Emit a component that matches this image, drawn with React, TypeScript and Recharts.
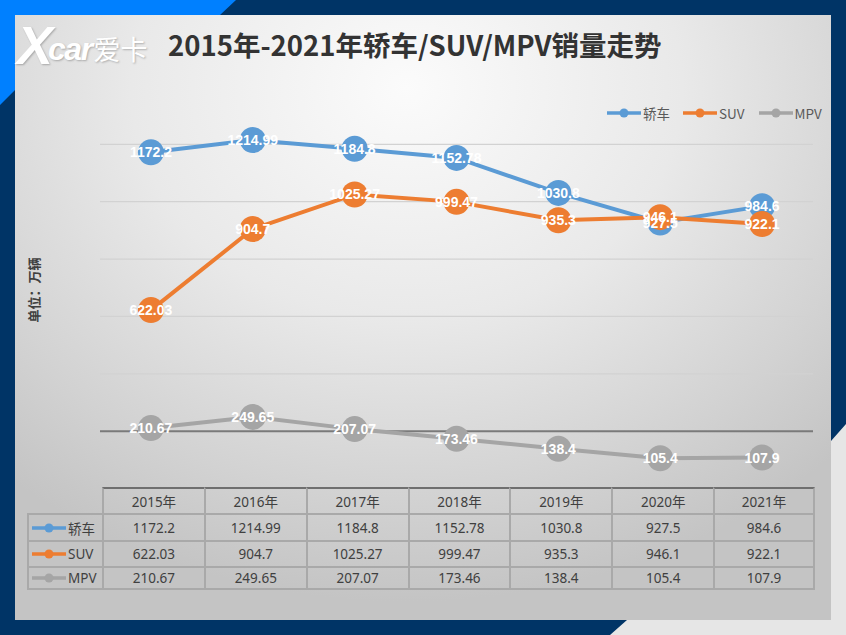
import React from 'react';
import { LineChart, Line, XAxis, YAxis, ReferenceLine } from 'recharts';

const years = ['2015年', '2016年', '2017年', '2018年', '2019年', '2020年', '2021年'];
const seriesNames = ['轿车', 'SUV', 'MPV'];
const sedan = [1172.2, 1214.99, 1184.8, 1152.78, 1030.8, 927.5, 984.6];
const suv = [622.03, 904.7, 1025.27, 999.47, 935.3, 946.1, 922.1];
const mpv = [210.67, 249.65, 207.07, 173.46, 138.4, 105.4, 107.9];
const colors = ['#5b9bd5', '#ed7d31', '#a5a5a5'];
const gridTicks = [400, 600, 800, 1000, 1200];
const axisValue = 200;
const title = '2015年-2021年轿车/SUV/MPV销量走势';
const unitLabel = '单位：万辆';

const seriesValues = [sedan, suv, mpv];
const keys = ['sedan', 'suv', 'mpv'];
const data = years.map((y, i) => ({ year: y, sedan: sedan[i], suv: suv[i], mpv: mpv[i] }));

const labelFont = '"Liberation Sans", Arial, sans-serif';
const cjk = '"Noto Sans CJK SC", "Noto Sans", sans-serif';

const renderLabel = (props: any) => {
  const { x, y, value } = props;
  if (x == null || y == null) return null;
  return (
    <text x={x} y={y} dy={5} textAnchor="middle" fill="#ffffff" fontSize={14} fontWeight="bold" fontFamily={labelFont}>
      {value}
    </text>
  );
};

const LegendIcon = ({ color }: { color: string }) => (
  <svg width={34} height={10} style={{ display: 'block' }}>
    <line x1={0} y1={5} x2={34} y2={5} stroke={color} strokeWidth={3.5} />
    <circle cx={17} cy={5} r={4.5} fill={color} />
  </svg>
);

export default function App() {
  const tableLeft = 102;
  const tableRight = 815;
  const colW = (tableRight - tableLeft) / years.length;
  const rowTops = [487, 513, 540, 566];
  const rowHeights = [26, 27, 26, 24];
  const labelLeft = 27;
  const border = '#a9a9a9';

  return (
    <div style={{ position: 'absolute', left: 0, top: 0, width: 846, height: 635, overflow: 'hidden', background: '#003466', fontFamily: cjk }}>
      <svg width={846} height={635} style={{ position: 'absolute', left: 0, top: 0 }}>
        <polygon points="0,0 236,0 220,15 15,15 15,90 0,105" fill="#0080ff" />
        <polygon points="846,424 831,441 831,620 627,620 610,635 846,635" fill="#e6e6e6" />
      </svg>
      <div
        style={{
          position: 'absolute', left: 15, top: 15, width: 816, height: 605,
          background: 'radial-gradient(ellipse 75% 85% at 48% 12%, #fbfbfb 0%, #e9e9e9 45%, #d2d2d2 80%, #c4c4c4 100%)',
        }}
      />
      <div style={{ position: 'absolute', left: 17, top: 17, height: 56, display: 'flex', alignItems: 'center', color: '#ffffff', textShadow: '1px 1px 2px rgba(0,0,0,0.25)' }}>
        <span style={{ fontFamily: labelFont, fontWeight: 'bold', fontStyle: 'italic', fontSize: 54, letterSpacing: -5, lineHeight: 1 }}>X</span>
        <span style={{ fontFamily: labelFont, fontWeight: 'bold', fontStyle: 'italic', fontSize: 32, letterSpacing: -1.5, lineHeight: 1, marginTop: 8 }}>car</span>
        <span style={{ fontFamily: cjk, fontSize: 27, lineHeight: 1, marginTop: 6, marginLeft: 2 }}>爱卡</span>
      </div>
      <div style={{ position: 'absolute', left: 168, top: 24, fontSize: 27.5, fontWeight: 'bold', color: '#333333', whiteSpace: 'nowrap', lineHeight: '40px', fontFamily: cjk }}>
        {title}
      </div>
      <div style={{ position: 'absolute', left: 607, top: 103, display: 'flex', alignItems: 'center', fontSize: 13.5, color: '#595959', whiteSpace: 'nowrap', fontFamily: cjk }}>
        {seriesNames.map((n, i) => (
          <div key={n} style={{ display: 'flex', alignItems: 'center', marginRight: i === 0 ? 13 : 14 }}>
            <LegendIcon color={colors[i]} />
            <span style={{ marginLeft: 2, lineHeight: '20px' }}>{n}</span>
          </div>
        ))}
      </div>
      <div style={{ position: 'absolute', left: 33, top: 290, transform: 'translate(-50%, -50%) rotate(-90deg)', fontSize: 13, fontWeight: 'bold', color: '#404040', whiteSpace: 'nowrap', fontFamily: cjk }}>
        {unitLabel}
      </div>

      <div style={{ position: 'absolute', left: 0, top: 0 }}>
        <LineChart width={846} height={635} data={data} margin={{ top: 87, right: 33, bottom: 146.5, left: 100 }}>
          <XAxis dataKey="year" scale="band" hide />
          <YAxis hide domain={[0, 1400]} type="number" />
          {gridTicks.map((t) => (
            <ReferenceLine key={t} y={t} stroke="#d2d2d2" strokeWidth={1.2} ifOverflow="visible" />
          ))}
          <ReferenceLine y={axisValue} stroke="#7a7a7a" strokeWidth={2} ifOverflow="visible" />
          {keys.map((k, i) => (
            <Line
              key={k}
              dataKey={k}
              name={seriesNames[i]}
              stroke={colors[i]}
              strokeWidth={4}
              dot={{ r: 13, fill: colors[i], stroke: colors[i], strokeWidth: 0 }}
              activeDot={false}
              isAnimationActive={false}
            />
          ))}
          {keys.map((k) => (
            <Line
              key={k + '-label'}
              dataKey={k}
              stroke="none"
              dot={false}
              activeDot={false}
              legendType="none"
              label={renderLabel}
              isAnimationActive={false}
            />
          ))}
        </LineChart>
      </div>

      <div style={{ position: 'absolute', left: 0, top: 0, fontSize: 13.5, color: '#404040', fontFamily: '"Noto Sans", "Noto Sans CJK SC", sans-serif' }}>
        {years.map((y, c) => (
          <div
            key={y}
            style={{
              position: 'absolute', left: tableLeft + c * colW, top: rowTops[0], width: colW, height: rowHeights[0],
              boxSizing: 'border-box', borderTop: '2px solid #6f6f6f', borderLeft: `2px solid ${border}`,
              borderRight: c === years.length - 1 ? `2px solid ${border}` : undefined,
              display: 'flex', alignItems: 'center', justifyContent: 'center',
            }}
          >
            {y}
          </div>
        ))}
        {seriesNames.map((n, r) => (
          <React.Fragment key={n}>
            <div
              style={{
                position: 'absolute', left: labelLeft, top: rowTops[r + 1], width: tableLeft - labelLeft, height: rowHeights[r + 1],
                boxSizing: 'border-box', borderTop: `2px solid ${border}`, borderLeft: `2px solid ${border}`,
                borderBottom: r === seriesNames.length - 1 ? `2px solid ${border}` : undefined,
                display: 'flex', alignItems: 'center', paddingLeft: 3,
              }}
            >
              <LegendIcon color={colors[r]} />
              <span style={{ marginLeft: 2 }}>{n}</span>
            </div>
            {seriesValues[r].map((v, c) => (
              <div
                key={c}
                style={{
                  position: 'absolute', left: tableLeft + c * colW, top: rowTops[r + 1], width: colW, height: rowHeights[r + 1],
                  boxSizing: 'border-box', borderTop: `2px solid ${border}`, borderLeft: `2px solid ${border}`,
                  borderRight: c === years.length - 1 ? `2px solid ${border}` : undefined,
                  borderBottom: r === seriesNames.length - 1 ? `2px solid ${border}` : undefined,
                  display: 'flex', alignItems: 'center', justifyContent: 'center',
                }}
              >
                {v}
              </div>
            ))}
          </React.Fragment>
        ))}
      </div>
    </div>
  );
}
